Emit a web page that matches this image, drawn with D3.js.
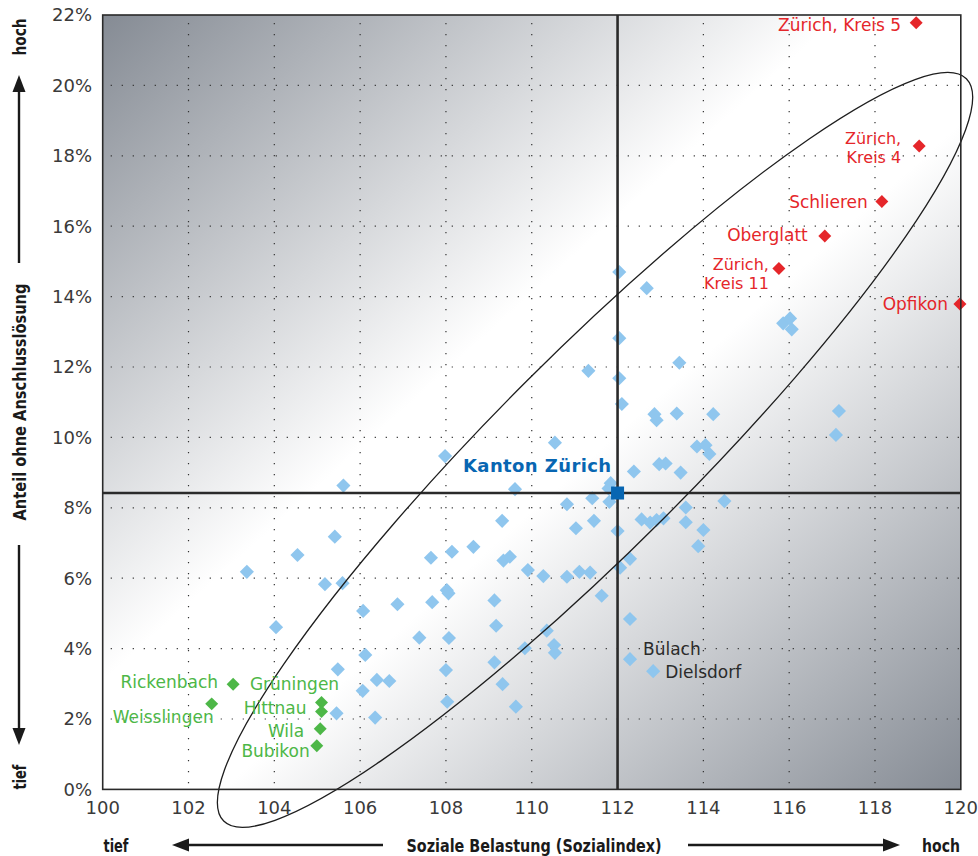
<!DOCTYPE html>
<head>
  <meta charset="utf-8">
  <script src="https://d3js.org/d3.v7.min.js"></script>
  <style>
    body { margin: 0; background: #fff; }
    .grid line { stroke: #333; stroke-width: 1.2; stroke-dasharray: 1.2,9.8; }
    .tick-label { font-family: "DejaVu Sans", sans-serif; font-size: 18px; fill: #3a3a3a; }
    .axis-title { font-family: "DejaVu Sans", sans-serif; font-weight: bold; font-size: 18px; fill: #1a1a1a; }
    .label { font-family: "DejaVu Sans", sans-serif; font-size: 17px; }
    .label.two { font-size: 16px; }
    .kanton { font-family: "DejaVu Sans", sans-serif; font-weight: bold; font-size: 18px; fill: #0866b2; letter-spacing: 0.4px; }
  </style>
</head>
<body>
<div id="chart"></div>
<script>
// x: Sozialindex, y: Anteil ohne Anschlusslösung (%)
var xTicks = [100, 102, 104, 106, 108, 110, 112, 114, 116, 118, 120];
var yTicks = [0, 2, 4, 6, 8, 10, 12, 14, 16, 18, 20, 22];

// Gemeinden ohne Beschriftung
var gemeinden = [
  [112.04,14.70],[112.68,14.24],[112.04,12.82],[113.44,12.12],[111.32,11.89],[112.04,11.68],
  [112.10,10.95],[112.86,10.66],[112.91,10.49],[113.38,10.68],[114.23,10.66],[115.86,13.24],
  [116.02,13.38],[116.06,13.07],[117.16,10.75],[117.09,10.07],[110.54,9.85],[107.98,9.47],
  [113.85,9.74],[114.05,9.78],[114.14,9.53],[112.97,9.24],[113.12,9.26],[112.38,9.03],
  [113.47,9.00],[111.84,8.70],[111.79,8.55],[105.61,8.63],[109.61,8.53],[111.41,8.27],
  [110.82,8.10],[111.81,8.17],[114.49,8.19],[113.59,8.01],[109.31,7.63],[111.45,7.63],
  [111.03,7.42],[112.00,7.34],[112.56,7.67],[112.76,7.58],[112.91,7.65],[113.07,7.70],
  [113.59,7.59],[114.00,7.37],[113.88,6.91],[105.41,7.18],[108.14,6.75],[108.64,6.89],
  [107.65,6.58],[109.34,6.50],[109.49,6.61],[109.91,6.23],[110.27,6.06],[110.82,6.04],
  [111.11,6.18],[111.36,6.16],[112.06,6.30],[112.29,6.55],[104.54,6.66],[103.36,6.18],
  [105.18,5.83],[105.59,5.86],[108.02,5.66],[108.06,5.57],[106.87,5.26],[107.68,5.32],
  [106.07,5.07],[109.13,5.37],[111.63,5.50],[104.04,4.61],[109.17,4.65],[110.35,4.51],
  [112.29,4.84],[107.38,4.31],[108.07,4.30],[106.12,3.82],[109.84,4.01],[110.52,4.10],
  [110.54,3.88],[109.13,3.61],[108.00,3.39],[105.48,3.41],[106.39,3.11],[106.68,3.08],
  [106.06,2.80],[109.32,2.99],[108.03,2.49],[109.63,2.35],[105.45,2.16],[106.35,2.04]
];

// beschriftete Gemeinden
var namedNames = ["Bülach", "Dielsdorf"];
var namedX     = [112.29, 112.83];
var namedY     = [3.70, 3.36];

var highNames = ["Zürich, Kreis 5", "Zürich,|Kreis 4", "Schlieren", "Oberglatt", "Zürich,|Kreis 11", "Opfikon"];
var highX     = [118.96, 119.03, 118.16, 116.83, 115.76, 119.98];
var highY     = [21.78, 18.28, 16.70, 15.72, 14.80, 13.79];

var lowNames = ["Rickenbach", "Weisslingen", "Grüningen", "Hittnau", "Wila", "Bubikon"];
var lowX     = [103.04, 102.54, 105.10, 105.10, 105.07, 104.99];
var lowY     = [2.99, 2.43, 2.47, 2.21, 1.72, 1.24];

var kantonName = "Kanton Zürich";
var kantonX = 112.0, kantonY = 8.42;

// label offsets (px) from the marker
var labelPos = {
  "Zürich, Kreis 5":  {dx: -15, dy: 8,  anchor: "end"},
  "Zürich,|Kreis 4":  {dx: -18, dy: -2, anchor: "end"},
  "Schlieren":        {dx: -14, dy: 6,  anchor: "end"},
  "Oberglatt":        {dx: -17, dy: 5,  anchor: "end"},
  "Zürich,|Kreis 11": {dx: -10, dy: 2,  anchor: "end"},
  "Opfikon":          {dx: -12, dy: 6,  anchor: "end"},
  "Rickenbach":       {dx: -15, dy: 4,  anchor: "end"},
  "Weisslingen":      {dx: 2,   dy: 19, anchor: "end"},
  "Grüningen":        {dx: -27, dy: -12, anchor: "middle"},
  "Hittnau":          {dx: -15, dy: 2,  anchor: "end"},
  "Wila":             {dx: -16, dy: 8,  anchor: "end"},
  "Bubikon":          {dx: -7,  dy: 11, anchor: "end"},
  "Bülach":           {dx: 13,  dy: -4, anchor: "start"},
  "Dielsdorf":        {dx: 12,  dy: 7,  anchor: "start"}
};

// Ellipse: tips in data units, minor half axis in px
var ellipseTips = [[102.82, -0.90], [120.13, 20.19]];
var ellipseMinor = 97;

var width = 978, height = 856;
var plot = {left: 102.7, right: 960.8, top: 15, bottom: 789.4};

var svg = d3.select("#chart").append("svg")
    .attr("width", width)
    .attr("height", height);

var x = d3.scaleLinear().domain([100, 120]).range([plot.left, plot.right]);
var y = d3.scaleLinear().domain([0, 22]).range([plot.bottom, plot.top]);

// background gradient
var defs = svg.append("defs");
var grad = defs.append("linearGradient")
    .attr("id", "bg")
    .attr("x1", 0).attr("y1", 0).attr("x2", 1).attr("y2", 1);
grad.append("stop").attr("offset", 0).attr("stop-color", "#858b94");
grad.append("stop").attr("offset", 0.43).attr("stop-color", "#ffffff");
grad.append("stop").attr("offset", 0.57).attr("stop-color", "#ffffff");
grad.append("stop").attr("offset", 1).attr("stop-color", "#858b94");

svg.append("rect")
    .attr("x", plot.left).attr("y", plot.top)
    .attr("width", plot.right - plot.left)
    .attr("height", plot.bottom - plot.top)
    .attr("fill", "url(#bg)");

// dotted grid
var grid = svg.append("g").attr("class", "grid");
grid.selectAll(".vx")
    .data(xTicks.filter(function(d) { return d > 100 && d < 120 && d !== 112; }))
  .enter().append("line")
    .attr("x1", function(d) { return x(d); }).attr("x2", function(d) { return x(d); })
    .attr("y1", plot.top + 8).attr("y2", plot.bottom);
grid.selectAll(".hy")
    .data(yTicks.filter(function(d) { return d > 0 && d < 22; }))
  .enter().append("line")
    .attr("y1", function(d) { return y(d); }).attr("y2", function(d) { return y(d); })
    .attr("x1", plot.left + 8).attr("x2", plot.right);

// diamonds
var diamond = d3.symbol().type(d3.symbolSquare);

svg.append("g").selectAll("path")
    .data(gemeinden.concat(namedX.map(function(d, i) { return [d, namedY[i]]; })))
  .enter().append("path")
    .attr("d", diamond.size(100)())
    .attr("transform", function(d) { return "translate(" + x(d[0]) + "," + y(d[1]) + ") rotate(45)"; })
    .attr("fill", "#8fc6ee");

// crosshair at Kanton Zürich
svg.append("line")
    .attr("x1", x(kantonX)).attr("x2", x(kantonX))
    .attr("y1", plot.top).attr("y2", plot.bottom)
    .attr("stroke", "#2a2a2a").attr("stroke-width", 2.6);
svg.append("line")
    .attr("x1", plot.left).attr("x2", plot.right)
    .attr("y1", y(kantonY)).attr("y2", y(kantonY))
    .attr("stroke", "#2a2a2a").attr("stroke-width", 2.6);

// ellipse
var p1 = [x(ellipseTips[0][0]), y(ellipseTips[0][1])],
    p2 = [x(ellipseTips[1][0]), y(ellipseTips[1][1])];
var ecx = (p1[0] + p2[0]) / 2, ecy = (p1[1] + p2[1]) / 2;
var erx = Math.hypot(p2[0] - p1[0], p2[1] - p1[1]) / 2;
var eang = Math.atan2(p2[1] - p1[1], p2[0] - p1[0]) * 180 / Math.PI;
svg.append("ellipse")
    .attr("cx", 0).attr("cy", 0)
    .attr("rx", erx).attr("ry", ellipseMinor)
    .attr("transform", "translate(" + ecx + "," + ecy + ") rotate(" + eang + ")")
    .attr("fill", "none")
    .attr("stroke", "#1e1e1e")
    .attr("stroke-width", 1.3);

// coloured diamonds
function drawGroup(names, xs, ys, color) {
  svg.append("g").selectAll("path")
      .data(names)
    .enter().append("path")
      .attr("d", diamond.size(84)())
      .attr("transform", function(d, i) { return "translate(" + x(xs[i]) + "," + y(ys[i]) + ") rotate(45)"; })
      .attr("fill", color);
}
drawGroup(highNames, highX, highY, "#e5262a");
drawGroup(lowNames, lowX, lowY, "#4db747");

// one text element per line
function drawLabels(names, xs, ys, color) {
  var g = svg.append("g");
  names.forEach(function(name, i) {
    var p = labelPos[name], lines = name.split("|");
    lines.forEach(function(line, k) {
      g.append("text")
          .attr("class", lines.length > 1 ? "label two" : "label")
          .attr("fill", color)
          .attr("text-anchor", p.anchor)
          .attr("x", x(xs[i]) + p.dx)
          .attr("y", y(ys[i]) + p.dy + k * 19)
          .text(line);
    });
  });
}
drawLabels(highNames, highX, highY, "#e5262a");
drawLabels(lowNames, lowX, lowY, "#4db747");
drawLabels(namedNames, namedX, namedY, "#2b2b2b");

// Kanton Zürich
svg.append("rect")
    .attr("x", x(kantonX) - 6.5).attr("y", y(kantonY) - 6.5)
    .attr("width", 13).attr("height", 13)
    .attr("fill", "#0866b2");
svg.append("text")
    .attr("class", "kanton")
    .attr("x", x(kantonX) - 6).attr("y", y(kantonY) - 21)
    .attr("text-anchor", "end")
    .text(kantonName);

// frame
svg.append("rect")
    .attr("x", plot.left).attr("y", plot.top)
    .attr("width", plot.right - plot.left)
    .attr("height", plot.bottom - plot.top)
    .attr("fill", "none")
    .attr("stroke", "#2a2a2a").attr("stroke-width", 1.6);

// tick labels
svg.append("g").selectAll("text")
    .data(xTicks)
  .enter().append("text")
    .attr("class", "tick-label")
    .attr("x", function(d) { return x(d); })
    .attr("y", plot.bottom + 25)
    .attr("text-anchor", "middle")
    .text(function(d) { return d; });

svg.append("g").selectAll("text")
    .data(yTicks)
  .enter().append("text")
    .attr("class", "tick-label")
    .attr("x", 92)
    .attr("y", function(d) { return y(d); })
    .attr("dy", "0.36em")
    .attr("text-anchor", "end")
    .text(function(d) { return d + "%"; });

// axis titles with arrows (condensed via textLength)
var arrowColor = "#1a1a1a";
function arrow(x1, y1, x2, y2) {
  var ang = Math.atan2(y2 - y1, x2 - x1), len = 17, half = 6.5;
  var bx = x2 - len * Math.cos(ang), by = y2 - len * Math.sin(ang);
  svg.append("line")
      .attr("x1", x1).attr("y1", y1).attr("x2", bx).attr("y2", by)
      .attr("stroke", arrowColor).attr("stroke-width", 2.4);
  svg.append("path")
      .attr("d", "M" + x2 + "," + y2 +
                 "L" + (bx + half * Math.sin(ang)) + "," + (by - half * Math.cos(ang)) +
                 "L" + (bx - half * Math.sin(ang)) + "," + (by + half * Math.cos(ang)) + "Z")
      .attr("fill", arrowColor);
}
function title(txt, tx, ty, rot, len) {
  svg.append("text").attr("class", "axis-title")
      .attr("transform", "translate(" + tx + "," + ty + ") rotate(" + rot + ")")
      .attr("x", -len / 2)
      .attr("textLength", len)
      .attr("lengthAdjust", "spacingAndGlyphs")
      .text(txt);
}

var ax = 845;
title("Soziale Belastung (Sozialindex)", 534, 852, 0, 255);
title("tief", 116, 852, 0, 25);
title("hoch", 941, 852, 0, 38);
arrow(383, ax, 172, ax);
arrow(688, ax, 900, ax);

var ay = 19;
title("Anteil ohne Anschlusslösung", 26, 402, -90, 237);
title("hoch", 26, 37, -90, 37);
title("tief", 26, 777, -90, 25);
arrow(ay, 263, ay, 75);
arrow(ay, 545, ay, 745);
</script>
</body>
